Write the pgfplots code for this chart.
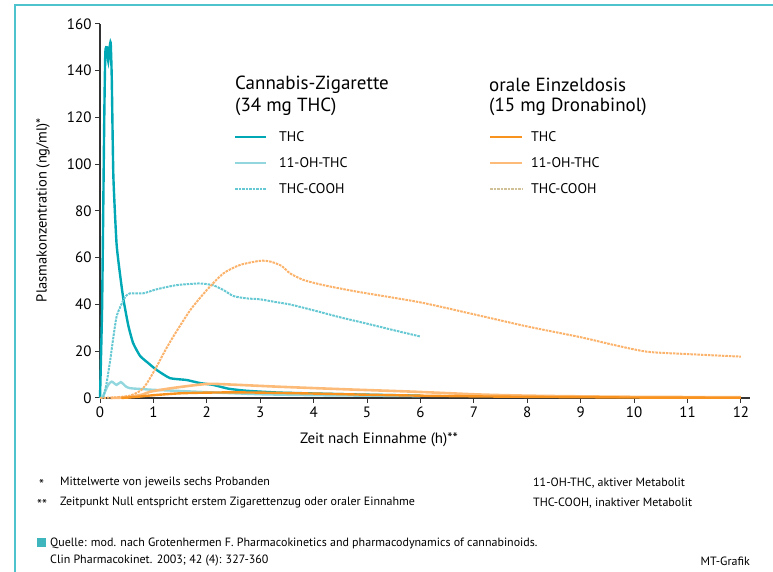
\documentclass[border=0pt]{standalone}
\usepackage{pgfplots}
\pgfplotsset{compat=1.18}
\usepackage{fontspec}
\setmainfont{PT Sans}
\definecolor{thcS}{HTML}{00A8B5}
\definecolor{ohS}{HTML}{93D7DE}
\definecolor{coohS}{HTML}{66C8D2}
\definecolor{thcO}{HTML}{F7931E}
\definecolor{ohO}{HTML}{FDBB79}
\definecolor{coohO}{HTML}{FBB26A}
\definecolor{frame}{HTML}{4FC3CD}
\definecolor{axc}{HTML}{333333}
\begin{document}
\begin{tikzpicture}
\path[use as bounding box] (0pt,0pt) rectangle (773pt,572pt);
\begin{axis}[
  at={(100pt,174pt)}, anchor=south west,
  scale only axis, width=650pt, height=374pt,
  xmin=0, xmax=12.17, ymin=0, ymax=160,
  axis lines=left,
  axis line style={-, line width=1.1pt, color=axc},
  tick align=outside, major tick length=5pt,
  tick style={axc, line width=1pt},
  xtick={0,1,...,12}, ytick={0,20,...,160},
  ticklabel style={font=\fontsize{15}{15}\selectfont},
  /pgf/number format/assume math mode=true,
  clip=false,
]
% Cigarette THC
\addplot[thcS, line width=2.4pt, smooth, tension=0.3] coordinates {
(0,0) (0.04,40) (0.08,120) (0.1,148) (0.13,150) (0.155,144) (0.18,150) (0.2,152)
(0.22,137) (0.25,95) (0.31,66) (0.38,52) (0.44,42) (0.53,31) (0.62,23.5) (0.75,18)
(0.9,15) (1.06,12) (1.31,8.5) (1.62,7.7) (1.87,6.4) (2.12,5.6) (2.4,4) (2.74,3.1)
(3.37,2.3) (4.62,1.6) (6.0,1.0)};
% Cigarette 11-OH-THC
\addplot[ohS, line width=2.4pt, smooth, tension=0.4] coordinates {
(0,0) (0.05,0.5) (0.15,5.5) (0.22,7) (0.31,5.6) (0.39,6.8) (0.48,5) (0.56,4.2)
(0.8,3.8) (1,3.5) (1.5,3.0) (2,2.5) (3,1.6) (4,1.2) (5,1) (6,0.8)};
% Cigarette THC-COOH
\addplot[coohS, line width=2pt, dash pattern=on 2.5pt off 1pt, smooth, tension=0.4] coordinates {
(0.06,0) (0.12,6) (0.19,16) (0.25,26) (0.31,34.8) (0.38,39) (0.44,42) (0.5,44)
(0.56,44.8) (0.81,44.8) (1.06,46.5) (1.44,48.3) (1.87,49) (2.12,48.2) (2.31,46.2)
(2.5,43.6) (2.75,42.6) (3.0,42.2) (3.3,41) (3.56,40) (4.0,37.5) (4.5,34.5)
(5.0,31.8) (5.5,29) (6.0,26.3)};
% Oral 11-OH-THC
\addplot[ohO, line width=2.6pt, smooth, tension=0.4] coordinates {
(0.2,0) (0.5,0.3) (0.8,1.5) (0.94,2.7) (1.37,4.3) (2.0,6.0) (2.5,5.7) (3.37,4.8)
(4.62,3.7) (5.87,2.7) (7.1,1.5) (8,1.0) (9,0.7) (10,0.5) (12,0.3)};
% Oral THC-COOH
\addplot[coohO, line width=2pt, dash pattern=on 2.5pt off 1pt, smooth, tension=0.4] coordinates {
(0,0) (0.3,0.3) (0.56,1) (0.75,3) (0.87,6) (1.06,13.4) (1.2,19.5) (1.37,26.2)
(1.69,37.6) (2.0,46.2) (2.31,53.3) (2.62,56.9) (3.0,58.7) (3.2,58.3) (3.4,56.5)
(3.56,53.3) (3.81,50.5) (4.18,48.3) (4.81,45.5) (6.0,40.9) (7.0,35.8) (8.0,30.6)
(9.0,26.0) (9.6,22.8) (10.24,19.8) (10.99,18.8) (12,17.7)};
% Oral THC
\addplot[thcO, line width=2.4pt, smooth, tension=0.4] coordinates {
(0.4,0) (0.7,0.5) (1,1.2) (1.5,2.0) (2,2.3) (2.5,2.4) (3,2.3) (4,1.9) (5,1.4)
(6,1.0) (7,0.7) (8,0.5) (10,0.2) (12,0.1)};
\end{axis}
\begin{scope}[x=1pt,y=1pt]
\draw[frame, line width=2pt] (15,0) -- (15,567) -- (773,567);
% axis labels
\node[rotate=90, font=\fontsize{14.5}{14.5}\selectfont] at (43,362) {Plasmakonzentration (ng/ml)*};
\node[font=\fontsize{15}{15}\selectfont] at (379,132) {Zeit nach Einnahme (h)**};
% legend group 1
\node[anchor=west, font=\fontsize{19}{19}\selectfont, inner sep=0] at (235,487) {Cannabis-Zigarette};
\node[anchor=west, font=\fontsize{19}{19}\selectfont, inner sep=0] at (235,465) {(34 mg THC)};
\draw[thcS, line width=2.4pt] (235,435) -- (266,435);
\draw[ohS, line width=2.4pt] (235,409) -- (266,409);
\draw[coohS, line width=2pt, dash pattern=on 2.5pt off 1pt] (235,383) -- (266,383);
\node[anchor=west, font=\fontsize{14}{14}\selectfont, inner sep=0] at (279,435) {THC};
\node[anchor=west, font=\fontsize{14}{14}\selectfont, inner sep=0] at (279,409) {11-OH-THC};
\node[anchor=west, font=\fontsize{14}{14}\selectfont, inner sep=0] at (279,383) {THC-COOH};
% legend group 2
\node[anchor=west, font=\fontsize{19}{19}\selectfont, inner sep=0] at (489,487) {orale Einzeldosis};
\node[anchor=west, font=\fontsize{19}{19}\selectfont, inner sep=0] at (489,465) {(15 mg Dronabinol)};
\draw[thcO, line width=2.4pt] (490,435) -- (522,435);
\draw[ohO, line width=2.6pt] (490,409) -- (522,409);
\draw[coohO!60!ohS, line width=2pt, dash pattern=on 2.5pt off 1pt] (490,383) -- (522,383);
\node[anchor=west, font=\fontsize{14}{14}\selectfont, inner sep=0] at (531,435) {THC};
\node[anchor=west, font=\fontsize{14}{14}\selectfont, inner sep=0] at (531,409) {11-OH-THC};
\node[anchor=west, font=\fontsize{14}{14}\selectfont, inner sep=0] at (531,383) {THC-COOH};
% footnotes
\begin{scope}[every node/.style={anchor=west, inner sep=0, font=\fontsize{12}{12}\selectfont}]
\node[font=\fontsize{14}{14}\selectfont] at (39,88) {*};
\node[font=\fontsize{14}{14}\selectfont] at (37,68) {**};
\node at (60,89) {Mittelwerte von jeweils sechs Probanden};
\node at (60,69) {Zeitpunkt Null entspricht erstem Zigarettenzug oder oraler Einnahme};
\node at (533,89) {11-OH-THC, aktiver Metabolit};
\node at (533,69) {THC-COOH, inaktiver Metabolit};
\node at (50,29) {Quelle: mod. nach Grotenhermen F. Pharmacokinetics and pharmacodynamics of cannabinoids.};
\node at (50,11) {Clin Pharmacokinet. 2003; 42 (4): 327-360};
\node[anchor=east] at (750,11) {MT-Grafik};
\end{scope}
\fill[frame!80!teal] (37,25) rectangle (46,34);
\end{scope}
\end{tikzpicture}
\end{document}
